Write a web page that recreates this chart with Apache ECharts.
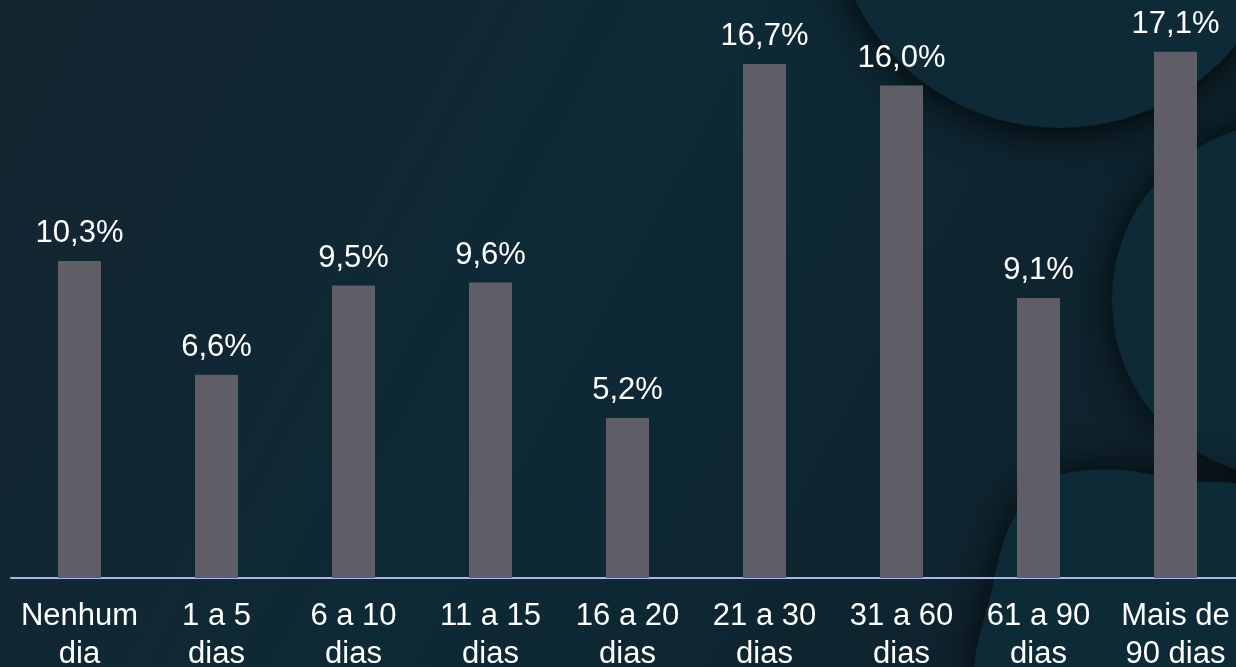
<!DOCTYPE html>
<html><head><meta charset="utf-8">
<script src="https://cdn.jsdelivr.net/npm/echarts@6/dist/echarts.min.js"></script>
<style>html,body{margin:0;padding:0;background:#112530}#c{width:1236px;height:667px}</style>
</head><body><div id="c"></div>
<script>
const categories = ['Nenhum\ndia','1 a 5\ndias','6 a 10\ndias','11 a 15\ndias','16 a 20\ndias','21 a 30\ndias','31 a 60\ndias','61 a 90\ndias','Mais de\n90 dias'];
const values = [10.3, 6.6, 9.5, 9.6, 5.2, 16.7, 16.0, 9.1, 17.1];

const chart = echarts.init(document.getElementById('c'));
const font = "'Liberation Sans', Arial, sans-serif";
chart.setOption({
  backgroundColor: {
    type: 'linear', x: 0, y: 0, x2: 1, y2: 1,
    colorStops: [{offset: 0, color: '#152530'}, {offset: 0.45, color: '#0d2a36'}, {offset: 1, color: '#10202a'}]
  },
  graphic: [
    {type: 'circle', z: -10, shape: {cx: 1290, cy: 300, r: 178}, style: {fill: '#0e2a36', shadowBlur: 40, shadowColor: 'rgba(0,0,0,0.8)'}},
    {type: 'circle', z: -9, shape: {cx: 1060, cy: -100, r: 228}, style: {fill: '#0e2a36', shadowBlur: 40, shadowOffsetY: 6, shadowColor: 'rgba(0,0,0,0.85)'}},
    {type: 'polygon', z: -9, shape: {smooth: 0.4, points: [[990, 700], [994, 580], [1032, 492], [1090, 470], [1180, 480], [1260, 500], [1260, 700]]}, style: {fill: '#0d2b37', shadowBlur: 40, shadowColor: 'rgba(0,0,0,0.8)'}}
  ],
  grid: {left: 11, right: -8, top: 24, bottom: 89, containLabel: false, outerBoundsMode: 'none'},
  xAxis: {
    type: 'category', data: categories,
    axisLine: {lineStyle: {color: '#aab4ee', width: 2}},
    axisTick: {show: false},
    axisLabel: {color: '#ffffff', fontSize: 31, fontFamily: font, lineHeight: 38, margin: 19, interval: 0}
  },
  yAxis: {type: 'value', min: 0, max: 18, show: false, splitLine: {show: false}},
  series: [{
    type: 'bar', data: values, barWidth: 43,
    itemStyle: {color: '#5f5e67'},
    label: {show: true, position: 'top', distance: 12, color: '#ffffff', fontSize: 31, fontFamily: font,
      formatter: p => p.value.toFixed(1).replace('.', ',') + '%'}
  }]
});
</script></body></html>
